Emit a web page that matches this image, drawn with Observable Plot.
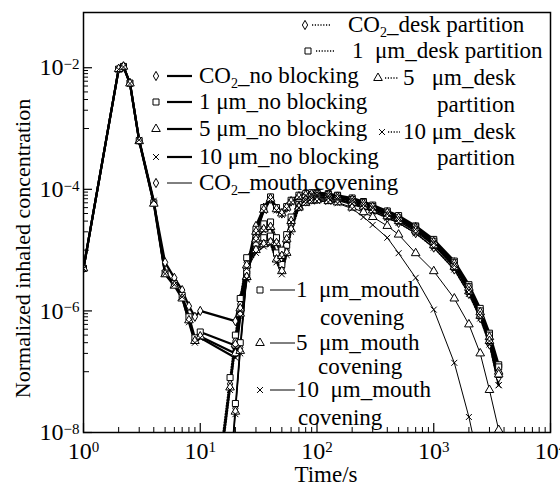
<!DOCTYPE html>
<html><head><meta charset="utf-8">
<script src="https://cdn.jsdelivr.net/npm/d3@7"></script>
<script src="https://cdn.jsdelivr.net/npm/@observablehq/plot@0.6"></script>
<style>
body{margin:0;background:#fff;}
#chart svg{display:block;}
#chart svg text, #chart svg tspan{font-family:"Liberation Serif","Times New Roman",Times,serif !important;}
</style></head><body><div id="chart"></div>
<script>
// ---------- DATA ----------
const tEarly = [1, 2, 2.2, 2.5, 3, 4, 5, 6, 7, 8, 9, 10, 20];
const tRise  = [15, 18, 20];
const tLate  = [22, 25, 30, 35, 40, 45, 50, 55, 60, 70, 80, 90, 100, 125, 150, 200, 250, 300, 400, 500, 700, 1000, 1500, 2000, 2500, 3000, 3600];

// no blocking — early phase (tEarly)
const nbEarlyCO2 = [5e-6, 9.5e-3, 1.05e-2, 5.6e-3, 6.3e-4, 6e-5, 6.3e-6, 3.5e-6, 2.2e-6, 1.2e-6, 8e-7, 1e-6, 6.8e-7];
const nbEarly1   = [5e-6, 9.5e-3, 1.05e-2, 5.6e-3, 6.3e-4, 6e-5, 4.2e-6, 2.8e-6, 1.8e-6, 8e-7, 3.6e-7, 4.5e-7, 2.7e-7];
const nbEarly5   = [5e-6, 9.5e-3, 1.04e-2, 5.5e-3, 6.2e-4, 5.8e-5, 4e-6, 2.6e-6, 1.6e-6, 7e-7, 3.2e-7, 3.8e-7, 2e-7];
const nbEarly10  = [5e-6, 9.4e-3, 1.03e-2, 5.5e-3, 6.5e-4, 6.5e-5, 4.1e-6, 2.7e-6, 1.7e-6, 6.5e-7, 3e-7, 3.6e-7, 1.7e-7];
// no blocking — late phase (tLate)
const nbLateCO2 = [1.6e-6, 5e-6, 2.5e-5, 5e-5, 7e-5, 4.8e-5, 4e-5, 5e-5, 6.3e-5, 7.6e-5, 8e-5, 8.3e-5, 8.3e-5, 8e-5, 7.6e-5, 6.8e-5, 5.9e-5, 5.2e-5, 4.2e-5, 3.5e-5, 2.4e-5, 1.4e-5, 6.3e-6, 2.5e-6, 1e-6, 4e-7, 1.1e-7];
const nbLate1   = [1e-6, 4e-6, 2.2e-5, 5e-5, 7.5e-5, 5e-5, 4.2e-5, 5.2e-5, 6.6e-5, 8e-5, 8.5e-5, 8.8e-5, 8.8e-5, 8.5e-5, 8e-5, 7.2e-5, 6.3e-5, 5.5e-5, 4.4e-5, 3.7e-5, 2.5e-5, 1.5e-5, 6.6e-6, 2.7e-6, 1.1e-6, 4.3e-7, 1.3e-7];
const nbLate5   = [9e-7, 3.6e-6, 2e-5, 4.6e-5, 7e-5, 4.7e-5, 4e-5, 5e-5, 6.3e-5, 7.6e-5, 8e-5, 8.3e-5, 8.3e-5, 8e-5, 7.5e-5, 6.7e-5, 5.8e-5, 5.1e-5, 4.1e-5, 3.4e-5, 2.3e-5, 1.35e-5, 6e-6, 2.4e-6, 9.5e-7, 3.7e-7, 1e-7];
const nbLate10  = [8e-7, 3.3e-6, 1.9e-5, 4.4e-5, 6.8e-5, 4.5e-5, 3.8e-5, 4.8e-5, 6.1e-5, 7.4e-5, 7.8e-5, 8.1e-5, 8.1e-5, 7.8e-5, 7.3e-5, 6.5e-5, 5.6e-5, 4.9e-5, 3.9e-5, 3.2e-5, 2.2e-5, 1.3e-5, 5.6e-6, 2.2e-6, 8.5e-7, 3.2e-7, 6e-8];

// desk partition (tRise + tLate)
const dpCO2 = [4e-9, 6.3e-8, 3.2e-7, 1.3e-6, 6.3e-6, 1.1e-5, 1.4e-5, 1.5e-5, 7.9e-6, 5e-6, 1e-5, 2.5e-5, 5.6e-5, 7.1e-5, 7.6e-5, 7.9e-5, 7.6e-5, 7.2e-5, 6.3e-5, 5.5e-5, 4.8e-5, 3.8e-5, 3.2e-5, 2.2e-5, 1.26e-5, 5.6e-6, 2.2e-6, 8.9e-7, 3.5e-7, 1e-7];
const dp1   = [5e-9, 8e-8, 4e-7, 1.6e-6, 7.5e-6, 1.3e-5, 1.6e-5, 1.7e-5, 9e-6, 5.8e-6, 1.2e-5, 2.8e-5, 6e-5, 7.6e-5, 8.2e-5, 8.5e-5, 8.2e-5, 7.8e-5, 6.8e-5, 6e-5, 5.2e-5, 4.1e-5, 3.4e-5, 2.4e-5, 1.4e-5, 6.2e-6, 2.5e-6, 1e-6, 4e-7, 1.2e-7];
const dp5   = [3.5e-9, 5.5e-8, 2.8e-7, 1.1e-6, 5.6e-6, 1e-5, 1.25e-5, 1.35e-5, 7e-6, 4.5e-6, 9e-6, 2.2e-5, 5.2e-5, 6.8e-5, 7.3e-5, 7.6e-5, 7.3e-5, 6.9e-5, 6e-5, 5.2e-5, 4.5e-5, 3.6e-5, 3e-5, 2.1e-5, 1.2e-5, 5.3e-6, 2.1e-6, 8.3e-7, 3.2e-7, 9e-8];
const dp10  = [3e-9, 5e-8, 2.5e-7, 1e-6, 5e-6, 9e-6, 1.15e-5, 1.25e-5, 6.3e-6, 4e-6, 8.3e-6, 2e-5, 5e-5, 6.6e-5, 7.1e-5, 7.4e-5, 7.1e-5, 6.7e-5, 5.8e-5, 5e-5, 4.3e-5, 3.4e-5, 2.8e-5, 1.9e-5, 1.1e-5, 4.8e-6, 1.9e-6, 7.5e-7, 2.8e-7, 6e-8];

// mouth covering (tRise + tLate)
const mcCO2 = [1e-10, 1.6e-9, 2.5e-8, 2.5e-7, 4e-6, 1.6e-5, 2.4e-5, 2.6e-5, 1.4e-5, 8.9e-6, 1.6e-5, 3.2e-5, 5.2e-5, 6.3e-5, 6.8e-5, 6.9e-5, 6.8e-5, 6.5e-5, 5.6e-5, 4.9e-5, 4.3e-5, 3.4e-5, 2.8e-5, 1.9e-5, 1.1e-5, 4.8e-6, 1.9e-6, 7.6e-7, 2.8e-7, 8e-8];
const mc1   = [1e-10, 2e-9, 3e-8, 3e-7, 4.5e-6, 1.8e-5, 2.7e-5, 2.9e-5, 1.6e-5, 1e-5, 1.8e-5, 3.5e-5, 5.6e-5, 6.6e-5, 7.1e-5, 7.2e-5, 7.1e-5, 6.8e-5, 5.9e-5, 5.2e-5, 4.6e-5, 3.6e-5, 3e-5, 2e-5, 1.2e-5, 5.2e-6, 2.1e-6, 8.5e-7, 3.1e-7, 9e-8];
const mc5   = [1e-10, 1.4e-9, 2.2e-8, 2.2e-7, 3.6e-6, 1.5e-5, 2.2e-5, 2.4e-5, 1.3e-5, 8e-6, 1.5e-5, 3e-5, 5e-5, 6e-5, 6.5e-5, 6.6e-5, 6.4e-5, 6.1e-5, 5e-5, 4.2e-5, 3.5e-5, 2.5e-5, 1.8e-5, 8.9e-6, 4.5e-6, 1.6e-6, 6e-7, 2e-7, 5e-8, 1.1e-8];
const mc10  = [1e-10, 1.3e-9, 2e-8, 2e-7, 3.4e-6, 1.4e-5, 2.1e-5, 2.3e-5, 1.25e-5, 7.6e-6, 1.4e-5, 2.9e-5, 4.9e-5, 5.9e-5, 6.3e-5, 6.4e-5, 6.2e-5, 5.9e-5, 4.8e-5, 3.5e-5, 2.6e-5, 1.6e-5, 8.9e-6, 3.5e-6, 1.05e-6, 1.4e-7, 1.8e-8, 2.5e-9, 3e-10, 3e-11];

// axis ticks
const xMajor = [1, 10, 100, 1000, 10000];
const yMajor = [1e-8, 1e-6, 1e-4, 1e-2];
const minorMult = [2, 3, 4, 5, 6, 7, 8, 9];
const xDecades = [1, 10, 100, 1000];
const yMinorDecades = [1e-3, 1e-5, 1e-7];
const yMid = [1e-3, 1e-5, 1e-7];

// legend labels
const legendLeft  = ["CO2_no blocking", "1 μm_no blocking", "5 μm_no blocking", "10 μm_no blocking", "CO2_mouth covening"];
const legendRight = ["CO2_desk partition", "1  μm_desk partition", "5   μm_desk", "10 μm_desk"];
const legendRightCont = "partition";
const legendBottom = ["1  μm_mouth", "5  μm_mouth", "10  μm_mouth"];
const legendBottomCont = "covening";

// ---------- BUILD ----------
const tAll = tEarly.concat(tLate);
const tBlk = tRise.concat(tLate);
const series = [
  {name:"CO2_nb", group:"nb", kind:"CO2", t:tAll, v:nbEarlyCO2.concat(nbLateCO2)},
  {name:"1_nb",   group:"nb", kind:"1",   t:tAll, v:nbEarly1.concat(nbLate1)},
  {name:"5_nb",   group:"nb", kind:"5",   t:tAll, v:nbEarly5.concat(nbLate5)},
  {name:"10_nb",  group:"nb", kind:"10",  t:tAll, v:nbEarly10.concat(nbLate10)},
  {name:"CO2_dp", group:"dp", kind:"CO2", t:tBlk, v:dpCO2},
  {name:"1_dp",   group:"dp", kind:"1",   t:tBlk, v:dp1},
  {name:"5_dp",   group:"dp", kind:"5",   t:tBlk, v:dp5},
  {name:"10_dp",  group:"dp", kind:"10",  t:tBlk, v:dp10},
  {name:"CO2_mc", group:"mc", kind:"CO2", t:tBlk, v:mcCO2},
  {name:"1_mc",   group:"mc", kind:"1",   t:tBlk, v:mc1},
  {name:"5_mc",   group:"mc", kind:"5",   t:tBlk, v:mc5},
  {name:"10_mc",  group:"mc", kind:"10",  t:tBlk, v:mc10}
];
const rows = series.flatMap(s => s.t.map((t, i) => ({series:s.name, group:s.group, kind:s.kind, t, v:s.v[i]})));

const xMinor = xDecades.flatMap(d => minorMult.map(m => d * m));
const yMinor = yMinorDecades.flatMap(d => minorMult.map(m => d * m));

const W = 560, H = 486, mL = 83, mR = 10, mT = 12, mB = 54;
const pW = W - mL - mR, pH = H - mT - mB;
const FONT = "Liberation Serif, Times New Roman, Times, serif";

const symOf = {CO2:"diamond", "1":"square", "5":"triangle", "10":"times"};
const rOf = {CO2:2.8, "1":3.4, "5":3.2, "10":2.8};
const lineStyle = {
  nb: {strokeWidth:2.2},
  dp: {strokeWidth:1.6, strokeDasharray:"1.2,1.6"},
  mc: {strokeWidth:1}
};

const marks = [];
for (const g of ["mc", "dp", "nb"]) {
  marks.push(Plot.line(rows.filter(d => d.group === g), {x:"t", y:"v", z:"series", stroke:"black", clip:true, ...lineStyle[g]}));
}
for (const k of ["CO2", "1", "5", "10"]) {
  marks.push(Plot.dot(rows.filter(d => d.kind === k), {x:"t", y:"v", symbol:symOf[k], r:rOf[k], fill: k === "10" ? "none" : "white", stroke:"black", strokeWidth:1, clip:true}));
}
marks.push(
  Plot.tickX(xMinor, {x:d => d, insetTop:pH - 5, stroke:"black", strokeWidth:1}),
  Plot.tickX(xMajor, {x:d => d, insetTop:pH - 9, stroke:"black", strokeWidth:1.2}),
  Plot.tickY(yMinor, {y:d => d, insetRight:pW - 5, stroke:"black", strokeWidth:1}),
  Plot.tickY(yMid, {y:d => d, insetRight:pW - 6, stroke:"black", strokeWidth:1}),
  Plot.tickY(yMajor, {y:d => d, insetRight:pW - 9, stroke:"black", strokeWidth:1.2}),
  Plot.frame({stroke:"black", strokeWidth:1.5}),
  Plot.text(["Time/s"], {frameAnchor:"bottom", textAnchor:"middle", lineAnchor:"middle", dx:9, dy:42, fontSize:23}),
  Plot.text(["Normalized inhaled concentration"], {frameAnchor:"left", textAnchor:"middle", lineAnchor:"middle", rotate:-90, dx:-61, dy:26, fontSize:22})
);

const chart = Plot.plot({
  width:W, height:H, marginLeft:mL, marginRight:mR, marginTop:mT, marginBottom:mB,
  style:{fontFamily:FONT, fontSize:"24px", background:"white", color:"black"},
  x:{type:"log", domain:[1, 1e4], ticks:xMajor, tickSize:0, tickPadding:9, tickFormat:d => String(Math.round(Math.log10(d))), label:null},
  y:{type:"log", domain:[1e-8, 0.081], ticks:yMajor, tickSize:0, tickPadding:4, tickFormat:d => String(Math.round(Math.log10(d))), label:null},
  marks
});
document.getElementById("chart").appendChild(chart);

const svg = d3.select(chart);
svg.attr("font-family", FONT);
// superscript exponents on tick labels
svg.selectAll("text").filter(function(){ return /^-?\d+$/.test(this.textContent.trim()); }).each(function(){
  const e = this.textContent.trim().replace("-", "\u2212");
  const s = d3.select(this);
  s.text(null);
  s.append("tspan").text("10");
  s.append("tspan").attr("dy", "-0.42em").attr("font-size", "15px").text(e);
});

// ---------- LEGEND ----------
const d3sym = {CO2:d3.symbolDiamond, "1":d3.symbolSquare, "5":d3.symbolTriangle, "10":d3.symbolTimes};
const lg = svg.append("g").attr("font-family", FONT).attr("font-size", 23).attr("fill", "black").attr("text-anchor", "start");
function drawSym(kind, x, y) {
  const r = rOf[kind];
  lg.append("path").attr("d", d3.symbol(d3sym[kind], Math.PI * r * r)()).attr("transform", `translate(${x},${y})`)
    .attr("fill", kind === "10" ? "none" : "white").attr("stroke", "black").attr("stroke-width", 1);
}
function drawLine(group, x1, x2, y) {
  const st = lineStyle[group];
  lg.append("line").attr("x1", x1).attr("x2", x2).attr("y1", y).attr("y2", y).attr("stroke", "black")
    .attr("stroke-width", st.strokeWidth).attr("stroke-dasharray", st.strokeDasharray || null);
}
function drawText(str, x, y) {
  const t = lg.append("text").attr("x", x).attr("y", y + 7).style("white-space", "pre");
  if (str.startsWith("CO2")) {
    t.append("tspan").text("CO");
    t.append("tspan").attr("font-size", "14px").attr("dy", 5).text("2");
    t.append("tspan").attr("dy", -5).text(str.slice(3));
  } else t.text(str);
}
// left group
const leftY = [76, 102, 129, 157, 183];
const leftKinds = ["CO2", "1", "5", "10", "CO2"];
const leftGroups = ["nb", "nb", "nb", "nb", "mc"];
legendLeft.forEach((s, i) => {
  drawSym(leftKinds[i], 156, leftY[i]);
  drawLine(leftGroups[i], 167, 192, leftY[i]);
  drawText(s, 199, leftY[i]);
});
// right group
const rightPos = [
  {k:"CO2", y:25, mx:305, l:[312, 331], tx:348},
  {k:"1", y:51, mx:308, l:[316, 335], tx:352},
  {k:"5", y:78, mx:378, l:[385, 399], tx:403, cy:105},
  {k:"10", y:132, mx:382, l:[388, 400], tx:403, cy:158}
];
legendRight.forEach((s, i) => {
  const p = rightPos[i];
  drawSym(p.k, p.mx, p.y);
  drawLine("dp", p.l[0], p.l[1], p.y);
  drawText(s, p.tx, p.y);
  if (p.cy) drawText(legendRightCont, 437, p.cy);
});
// bottom group
const botPos = [
  {k:"1", y:290, cx:320, cy:318},
  {k:"5", y:343, cx:318, cy:367},
  {k:"10", y:390, cx:298, cy:418}
];
legendBottom.forEach((s, i) => {
  const p = botPos[i];
  drawSym(p.k, 260, p.y);
  drawLine("mc", 270, 295, p.y);
  drawText(s, 296, p.y);
  drawText(legendBottomCont, p.cx, p.cy);
});
</script></body></html>
